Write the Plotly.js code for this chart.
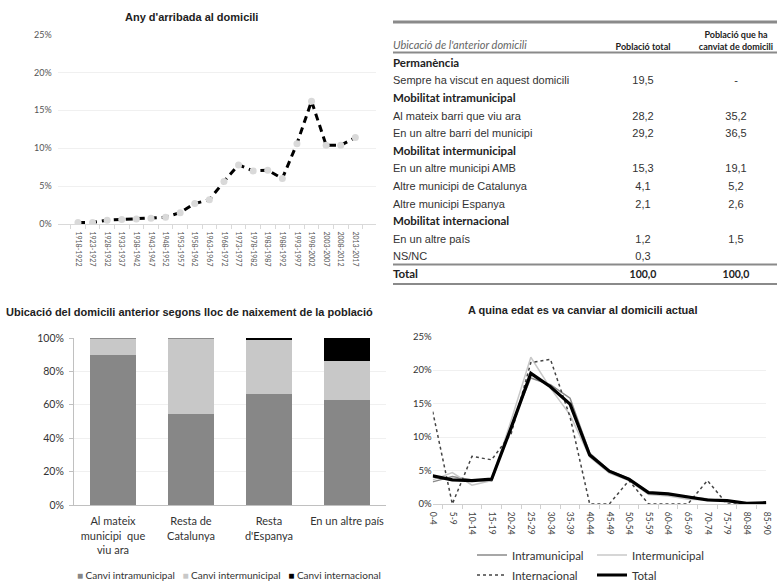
<!DOCTYPE html>
<html><head><meta charset="utf-8">
<script src="https://cdn.plot.ly/plotly-3.0.1.min.js"></script>
<style>html,body{margin:0;padding:0;background:#fff;}#chart{width:777px;height:581px;}</style>
</head><body><div id="chart"></div>
<script>
// ---------- Chart 1: Any d'arribada al domicili ----------
const arrivalPeriods = ['1918-1922','1923-1927','1928-1932','1933-1937','1938-1942','1943-1947','1948-1952','1953-1957','1958-1962','1963-1967','1968-1972','1973-1977','1978-1982','1983-1987','1988-1992','1993-1997','1998-2002','2003-2007','2008-2012','2013-2017'];
const arrivalShare = [0.2,0.2,0.5,0.6,0.65,0.75,0.9,1.5,2.7,3.2,5.6,7.8,7.0,7.1,6.0,10.6,16.2,10.4,10.4,11.4];

// ---------- Chart 3: Ubicació del domicili anterior segons lloc de naixement ----------
const birthPlaces = ['Al mateix<br>municipi  que<br>viu ara','Resta de<br>Catalunya','Resta<br>d\'Espanya','En un altre país'];
const shareIntra = [89.7,54.2,66.6,62.6];
const shareInter = [9.5,45.0,32.2,23.4];
const shareIntl  = [0,0,1.0,14.0];
const shareOther = [0.8,0.8,0.2,0];

// ---------- Chart 4: A quina edat es va canviar al domicili actual ----------
const ageGroups = ['0-4','5-9','10-14','15-19','20-24','25-29','30-34','35-39','40-44','45-49','50-54','55-59','60-64','65-69','70-74','75-79','80-84','85-90'];
const ageIntra = [3.3,4.1,3.6,3.4,11.8,18.8,17.8,15.8,7.6,5.0,3.8,1.7,1.4,1.1,0.7,0.5,0.1,0.2];
const ageInter = [3.6,4.7,2.8,3.5,12.5,21.9,17.3,13.3,7.0,4.6,3.5,1.4,1.2,0.7,0.6,0.4,0.1,0.2];
const ageIntl  = [13.8,0,7.1,6.6,10.5,21.1,21.6,13.0,0,0,3.5,0,0,0,3.5,0,0,0];
const ageTotal = [4.2,3.6,3.5,3.7,11.4,19.5,17.5,14.9,7.3,4.9,3.7,1.7,1.5,1.0,0.6,0.5,0.1,0.2];

// ---------- Table ----------
const tableHeaders = ['Ubicació de l\'anterior domicili','Població total','Població que ha<br>canviat de domicili'];
const tableRowLabels = ['Permanència','Sempre ha viscut en aquest domicili','Mobilitat intramunicipal','Al mateix barri que viu ara','En un altre barri del municipi','Mobilitat intermunicipal','En un altre municipi AMB','Altre municipi de Catalunya','Altre municipi Espanya','Mobilitat internacional','En un altre país','NS/NC','Total'];
const tableRowKind = ['group','item','group','item','item','group','item','item','item','group','item','item','total'];
const tableTotal   = ['','19,5','','28,2','29,2','','15,3','4,1','2,1','','1,2','0,3','100,0'];
const tableCanviat = ['','-','','35,2','36,5','','19,1','5,2','2,6','','1,5','','100,0'];

// ---------- helpers ----------
const W = 777, H = 581;
const px = x => x / W;
const py = y => 1 - y / H;
const CAL = 'Lato, "Open Sans", sans-serif';
const ARI = '"Liberation Sans", Arial, sans-serif';

const traces = [];

traces.push({
  type:'scatter', mode:'lines+markers', x: arrivalPeriods, y: arrivalShare,
  xaxis:'x', yaxis:'y', showlegend:false, hoverinfo:'skip',
  line:{color:'#000', width:3, dash:'7px,5px'},
  marker:{color:'#d9d9d9', size:7}
});

const barSeries = [
  {name:'Canvi intramunicipal', y: shareIntra, color:'#878787', show:true},
  {name:'Canvi intermunicipal', y: shareInter, color:'#c8c8c8', show:true},
  {name:'Canvi internacional', y: shareIntl, color:'#000000', show:true},
  {name:'NS/NC', y: shareOther, color:'#8c8c8c', show:false}
];
barSeries.forEach(s => traces.push({
  type:'bar', x: birthPlaces, y: s.y, name: s.name, xaxis:'x2', yaxis:'y2',
  marker:{color:s.color, line:{width:0}}, showlegend:false, hoverinfo:'skip'
}));

const lineSeries = [
  {name:'Intramunicipal', y: ageIntra, line:{color:'#8a8a8a', width:1.5}, legend:'legend2'},
  {name:'Intermunicipal', y: ageInter, line:{color:'#c8c8c8', width:1.5}, legend:'legend2'},
  {name:'Internacional', y: ageIntl, line:{color:'#444', width:1.5, dash:'dot'}, legend:'legend3'},
  {name:'Total', y: ageTotal, line:{color:'#000', width:3.2}, legend:'legend3'}
];
lineSeries.forEach(s => traces.push({
  type:'scatter', mode:'lines', x: ageGroups, y: s.y, name: s.name, xaxis:'x3', yaxis:'y3',
  line: s.line, legend: s.legend, hoverinfo:'skip'
}));

// table text traces
const rowIdx = [0].concat(tableRowLabels.map((_, i) => i + 1));
function fam(kind){ return kind === 'item' ? ARI : CAL; }
function fmt(t, kind){ return (kind === 'item' || t === '') ? t : '<b>' + t + '</b>'; }
const colX = [393, 643, 736];
const colData = [tableRowLabels, tableTotal, tableCanviat];
colData.forEach((col, c) => {
  const header = c === 0 ? '<i>' + tableHeaders[0] + '</i>' : '<b>' + tableHeaders[c] + '</b>';
  traces.push({
    type:'scatter', mode:'text', xaxis:'x4', yaxis:'y4', showlegend:false, hoverinfo:'skip',
    x: rowIdx.map(() => colX[c]), y: rowIdx,
    text: [header].concat(col.map((t, i) => fmt(t, tableRowKind[i]))),
    textposition: c === 0 ? 'top right' : 'top center',
    textfont: {
      family: [CAL].concat(tableRowKind.map(fam)),
      size: [c === 0 ? 11 : 9].concat(tableRowKind.map(k => k === 'item' ? 11 : (c === 0 ? 11.5 : 10.5))),
      color: [c === 0 ? '#666' : '#222'].concat(tableRowKind.map(k => k === 'item' ? '#333' : '#222'))
    },
    cliponaxis: true
  });
});

// table y mapping: row r text point at row1Px + (r-1)*rowH px
const rowH = 17.6, row1Px = 69.5;
const tblTop = 0, tblBot = 290;
const rAt = p => 1 + (p - row1Px) / rowH;

const rules = [
  {y:22, w:3}, {y:52.5, w:2}, {y:264.5, w:2}, {y:284, w:2}
].map(r => ({type:'line', xref:'paper', yref:'paper', x0:px(393), x1:1, y0:py(r.y), y1:py(r.y), line:{color:'#8a8a8a', width:r.w}}));

// bar chart legend (small square swatches)
const barLegendText = barSeries.filter(s => s.show)
  .map(s => '<span style="color:' + s.color + '">■</span> ' + s.name).join('&nbsp;&nbsp;&nbsp;');

const titleFont = {family: ARI, size: 11, color:'#222', weight: 700};
const layout = {
  width: W, height: H, margin:{l:0,r:0,t:0,b:0, autoexpand:false},
  paper_bgcolor:'#fff', plot_bgcolor:'#fff',
  font:{family: CAL, color:'#333'},
  barmode:'stack', bargap:0.4,
  xaxis:{domain:[px(57.7), px(375.6)], anchor:'y', type:'category', tickangle:90,
    tickfont:{size:7, color:'#555', family: CAL}, showline:true, linecolor:'#d9d9d9', linewidth:1,
    ticks:'outside', ticklen:4, tickcolor:'#d9d9d9', tickson:'boundaries', showgrid:false,
    ticklabelstandoff:5, fixedrange:true, automargin:false},
  yaxis:{domain:[py(224), py(34.5)], anchor:'x', range:[0,25], dtick:5, ticksuffix:'%',
    tickfont:{size:9, color:'#555', family: CAL}, gridcolor:'#f0f0f0', zeroline:false, showline:false,
    ticklabelstandoff:5, fixedrange:true, automargin:false},
  xaxis2:{domain:[px(74), px(386)], anchor:'y2', type:'category',
    tickfont:{size:11, color:'#333', family: CAL}, showline:true, linecolor:'#c0c0c0', ticks:'',
    ticklabelstandoff:6, fixedrange:true, automargin:false},
  yaxis2:{domain:[py(505), py(338)], anchor:'x2', range:[0,100], dtick:20, ticksuffix:'%',
    tickfont:{size:10.5, color:'#333', family: CAL}, showline:true, linecolor:'#c0c0c0',
    ticks:'outside', ticklen:4, tickcolor:'#c0c0c0', gridcolor:'#f0f0f0', zeroline:false, ticklabelstandoff:3, fixedrange:true, automargin:false},
  xaxis3:{domain:[px(432.7), px(766.3)], anchor:'y3', type:'category', tickangle:90,
    tickfont:{size:8.5, color:'#444', family: CAL}, showline:true, linecolor:'#d0d0d0',
    ticks:'outside', ticklen:4, tickcolor:'#d0d0d0', tickson:'boundaries', showgrid:false,
    ticklabelstandoff:5, fixedrange:true, automargin:false},
  yaxis3:{domain:[py(504), py(336.5)], anchor:'x3', range:[0,25], dtick:5, ticksuffix:'%',
    tickfont:{size:9.5, color:'#333', family: CAL}, gridcolor:'#f0f0f0', zeroline:false, showline:false, fixedrange:true, automargin:false},
  xaxis4:{domain:[px(388), 1], anchor:'y4', range:[388, 777], visible:false, fixedrange:true},
  yaxis4:{domain:[py(tblBot), py(tblTop)], anchor:'x4', range:[rAt(tblBot), rAt(tblTop)], visible:false, fixedrange:true},
  legend2:{orientation:'h', x:px(472), y:py(555), xanchor:'left', yanchor:'middle', bgcolor:'rgba(0,0,0,0)',
    font:{size:11.5, color:'#333', family: CAL}, entrywidth:75, itemclick:false, itemdoubleclick:false},
  legend3:{orientation:'h', x:px(472), y:py(575), xanchor:'left', yanchor:'middle', bgcolor:'rgba(0,0,0,0)',
    font:{size:11.5, color:'#333', family: CAL}, entrywidth:75, itemclick:false, itemdoubleclick:false},
  shapes: rules,
  annotations:[
    {text:'Any d\'arribada al domicili', x:px(191), y:py(17), xref:'paper', yref:'paper', showarrow:false, font:titleFont, xanchor:'center', yanchor:'middle'},
    {text:'Ubicació del domicili anterior segons lloc de naixement de la població', x:px(189), y:py(312), xref:'paper', yref:'paper', showarrow:false, font:titleFont, xanchor:'center', yanchor:'middle'},
    {text:'A quina edat es va canviar al domicili actual', x:px(582), y:py(310), xref:'paper', yref:'paper', showarrow:false, font:titleFont, xanchor:'center', yanchor:'middle'},
    {text: barLegendText, x:px(229), y:py(575), xref:'paper', yref:'paper', showarrow:false, xanchor:'center', yanchor:'middle',
      font:{size:10, color:'#333', family: CAL}}
  ]
};

Plotly.newPlot('chart', traces, layout, {displayModeBar:false, staticPlot:true});
</script>
</body></html>
